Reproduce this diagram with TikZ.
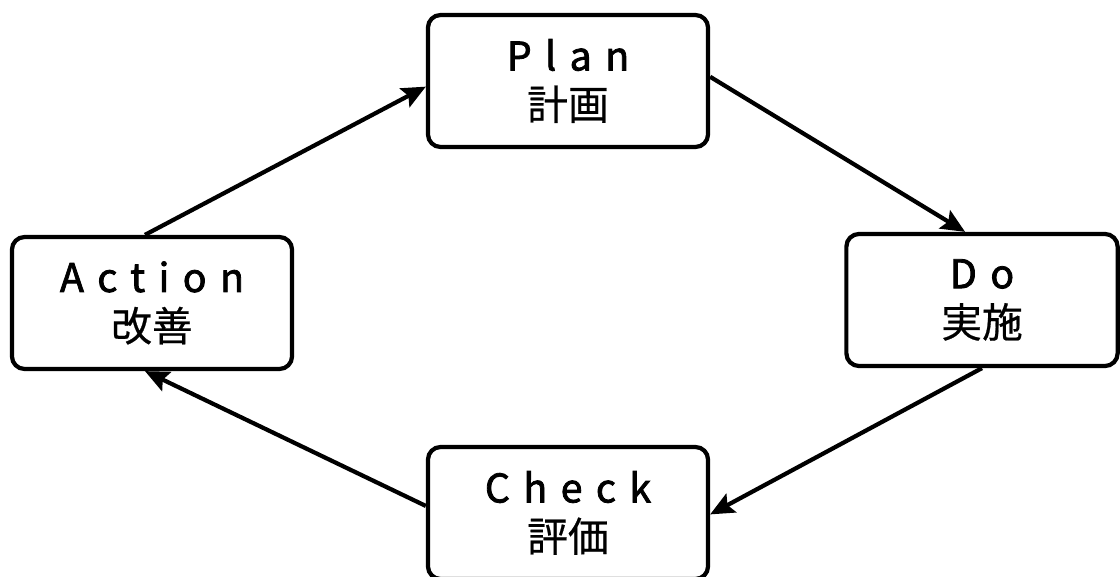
\documentclass[tikz,border=0pt]{standalone}
\usepackage{fontspec}
\setmainfont{Noto Sans CJK JP}
\usetikzlibrary{arrows.meta}

\newcommand{\spaced}[1]{{\addfontfeature{LetterSpace=34,FakeBold=2}\fontsize{28}{35}\selectfont #1}}
\newcommand{\jpline}[1]{{\addfontfeature{FakeBold=0.5}\fontsize{29}{35}\selectfont #1}}

\begin{document}
\begin{tikzpicture}[x=0.025cm, y=-0.025cm,
  stage/.style={draw, line width=3pt, rounded corners=9pt, fill=white,
    minimum width=7cm, minimum height=3.3cm, inner sep=0pt, align=center,
    font=\fontsize{26}{35}\selectfont},
  flow/.style={line width=3pt, -{Stealth[length=17pt, width=15pt, inset=3pt]}}]

\useasboundingbox (0,0) rectangle (1120,577);

\node[stage] (plan) at (568,81) {\spaced{Plan}\\\jpline{計画}};
\node[stage, minimum width=6.78cm] (do) at (982,300) {\spaced{Do}\\\jpline{実施}};
\node[stage] (check) at (568,513) {\spaced{Check}\\\jpline{評価}};
\node[stage] (action) at (152,303) {\spaced{Action}\\\jpline{改善}};

\draw[flow] ([xshift=-5]action.north) -- ([yshift=-4]plan.west);
\draw[flow] ([yshift=3]plan.east) -- ([xshift=-12]do.north);
\draw[flow] (do.south) -- ([yshift=-1]check.east);
\draw[flow] ([yshift=5]check.west) -- ([xshift=-5]action.south);

\end{tikzpicture}
\end{document}
